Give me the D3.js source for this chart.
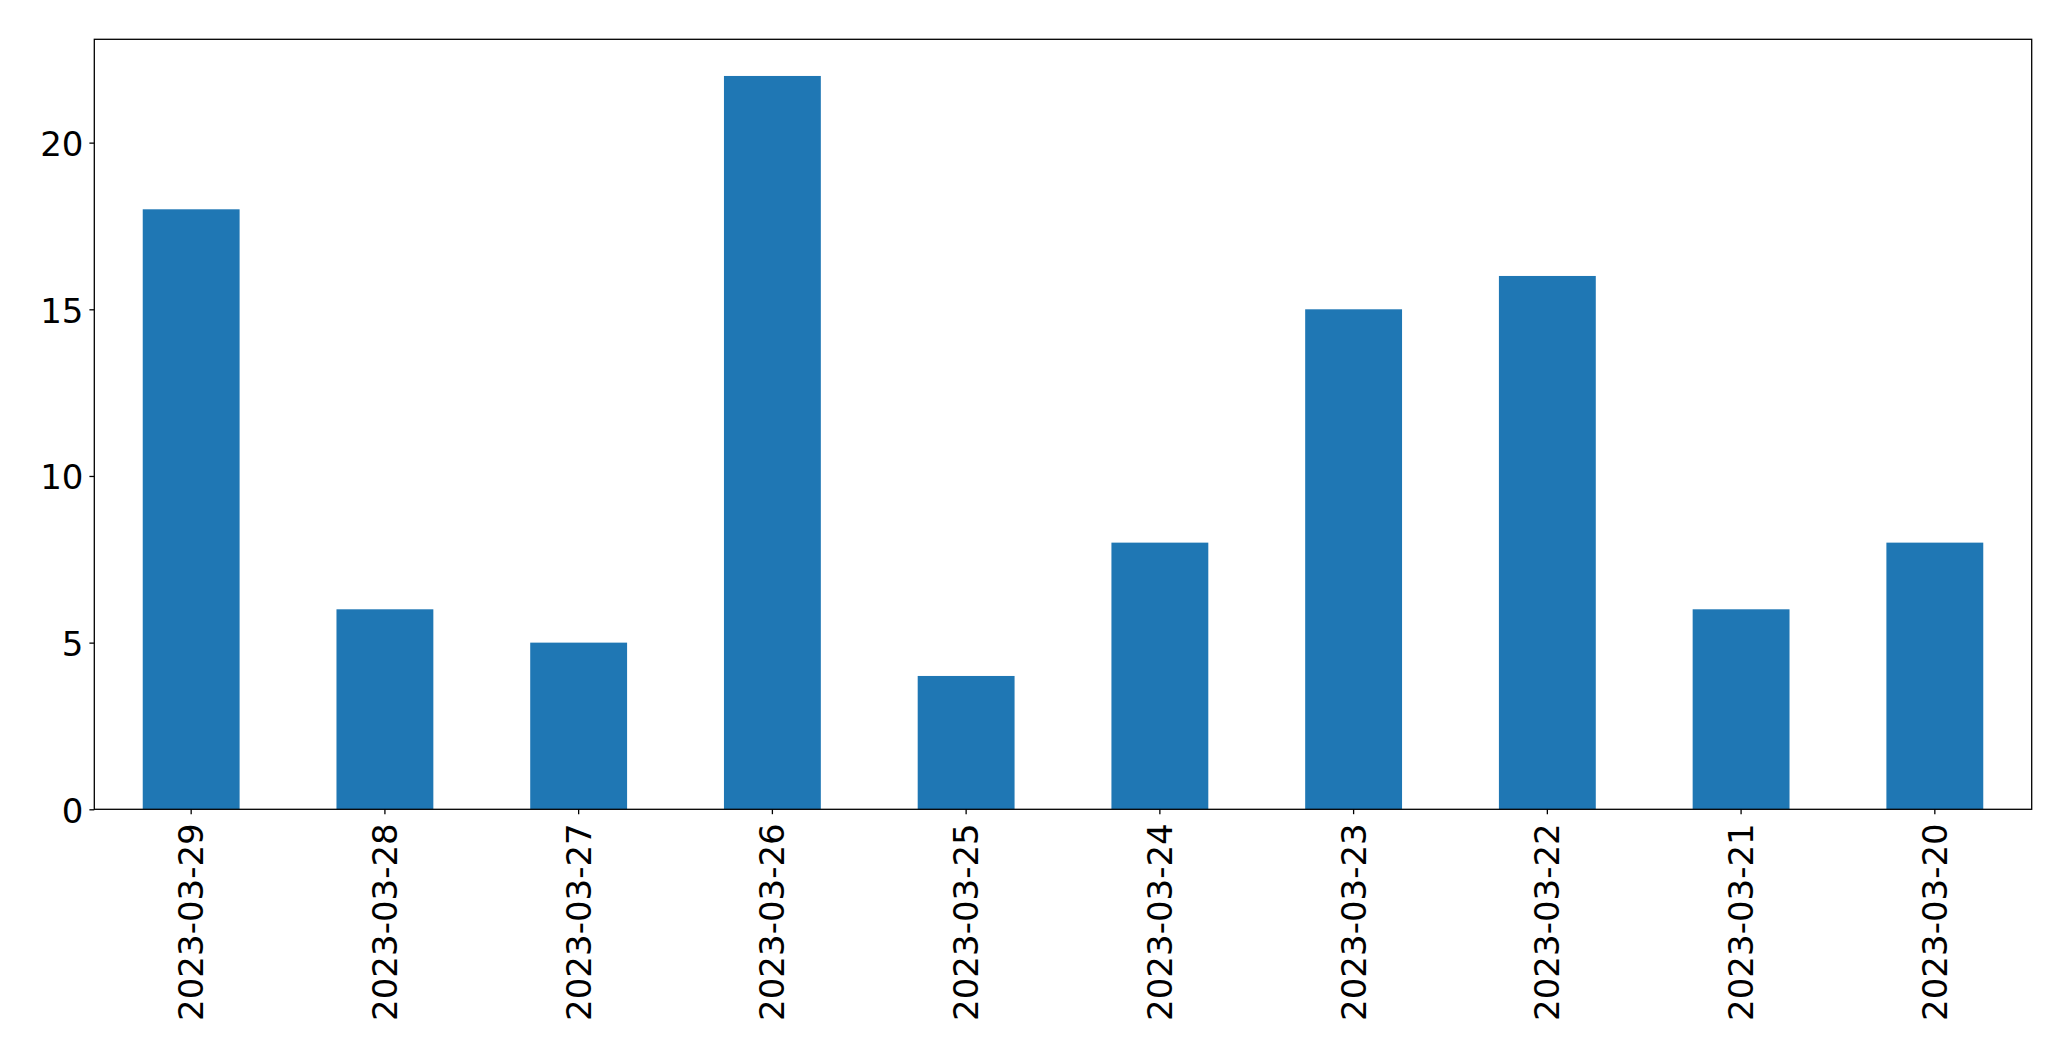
<!DOCTYPE html>
<html><head><meta charset="utf-8">
<script src="https://cdn.jsdelivr.net/npm/d3@7"></script>
<style>html,body{margin:0;padding:0;background:#fff;}svg{display:block;}</style>
</head><body>
<script>
const categories = ["2023-03-29","2023-03-28","2023-03-27","2023-03-26","2023-03-25","2023-03-24","2023-03-23","2023-03-22","2023-03-21","2023-03-20"];
const values = [18, 6, 5, 22, 4, 8, 15, 16, 6, 8];
const yTicks = [0, 5, 10, 15, 20];

const W = 2071, H = 1061;
const m = {left: 94.3, right: 2031.7, top: 39.3, bottom: 809.3};
const svg = d3.select("body").append("svg").attr("width", W).attr("height", H);

const x = d3.scaleBand().domain(categories).range([m.left, m.right]).paddingInner(0.5).paddingOuter(0.25);
const y = d3.scaleLinear().domain([0, d3.max(values) * 1.05]).range([m.bottom, m.top]);

svg.append("g").selectAll("rect").data(values).join("rect")
  .attr("x", (d, i) => x(categories[i]))
  .attr("width", x.bandwidth())
  .attr("y", d => y(d))
  .attr("height", d => y(0) - y(d))
  .attr("fill", "#1f77b4");

const font = "DejaVu Sans, sans-serif";
const fs = 34;

const yAxis = svg.append("g").attr("transform", `translate(${m.left},0)`)
  .call(d3.axisLeft(y).tickValues(yTicks).tickSize(4.9).tickPadding(6).tickFormat(d3.format("d")));
yAxis.select(".domain").remove();
yAxis.selectAll("line").attr("stroke", "#000").attr("stroke-width", 1.3);
yAxis.selectAll("text").attr("font-family", font).attr("font-size", fs).attr("fill", "#000").attr("dy", "0.38em");

const xAxis = svg.append("g").attr("transform", `translate(0,${m.bottom})`)
  .call(d3.axisBottom(x).tickSize(4.9).tickPadding(0));
xAxis.select(".domain").remove();
xAxis.selectAll("line").attr("stroke", "#000").attr("stroke-width", 1.3);
xAxis.selectAll("text")
  .attr("font-family", font).attr("font-size", fs).attr("fill", "#000")
  .attr("text-anchor", "end")
  .attr("dy", null)
  .attr("y", 0)
  .attr("transform", "translate(0,14) rotate(-90)")
  .attr("dominant-baseline", "central");

svg.append("rect").attr("x", m.left).attr("y", m.top)
  .attr("width", m.right - m.left).attr("height", m.bottom - m.top)
  .attr("fill", "none").attr("stroke", "#000").attr("stroke-width", 1.3);
</script>
</body></html>
